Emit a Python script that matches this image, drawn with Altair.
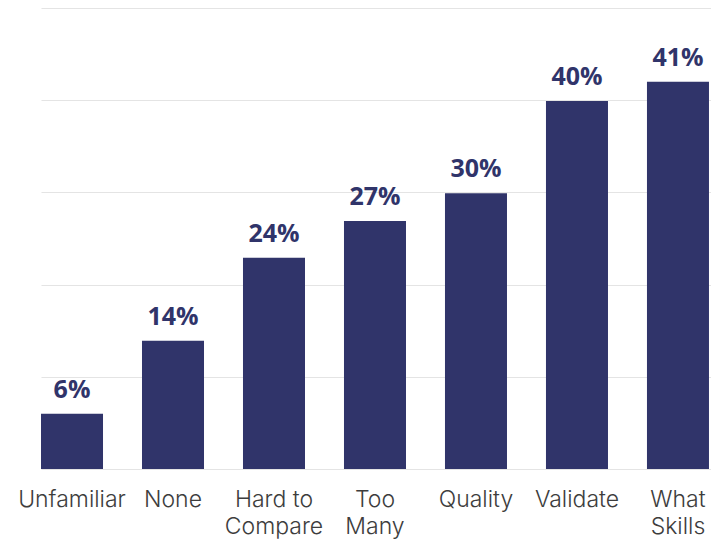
import altair as alt
import pandas as pd

categories = ["Unfamiliar", "None", "Hard to\nCompare", "Too\nMany", "Quality", "Validate", "What\nSkills"]
values = [6, 13.9, 22.9, 26.9, 29.9, 39.9, 42]
value_labels = ["6%", "14%", "24%", "27%", "30%", "40%", "41%"]
grid_ticks = [0, 10, 20, 30, 40, 50]

df = pd.DataFrame({"cat": categories, "val": values, "lab": value_labels})

BAR = "#30346a"

x = alt.X("cat:N", sort=categories, title=None,
          scale=alt.Scale(paddingInner=0.386, paddingOuter=0.01, align=0),
          axis=alt.Axis(labelAngle=0, domain=False, ticks=False, grid=False, labelPadding=19,
                        labelFont="Inter", labelFontSize=23, labelColor="#3d3d3d",
                        labelFontWeight=300, labelLineHeight=27.5, labelLimit=0,
                        labelExpr="split(datum.label, '\\n')"))
y = alt.Y("val:Q", title=None,
          scale=alt.Scale(domain=[0, 50], nice=False),
          axis=alt.Axis(values=grid_ticks, labels=False, ticks=False, domain=False,
                        grid=True, gridColor="#e4e4e4", gridWidth=1.2))

base = alt.Chart(df)
bars = base.mark_bar(color=BAR).encode(x=x, y=y)
text = base.mark_text(dy=-16, baseline="alphabetic", font="Open Sans", fontSize=25,
                      fontWeight="bold", color=BAR).encode(x=x, y=y, text="lab:N")

chart = (bars + text).properties(
    width=670, height=461,
    padding={"left": 41, "top": 8, "right": 0, "bottom": 74},
    autosize=alt.AutoSizeParams(type="none"),
).configure(background="white").configure_view(stroke=None)

chart.save("out.html", embed_options={"renderer": "svg", "actions": False})
